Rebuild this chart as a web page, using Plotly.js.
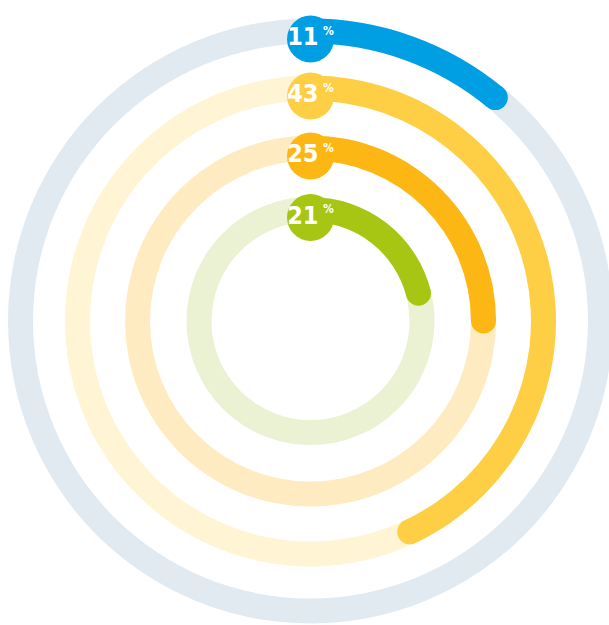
<!DOCTYPE html>
<html>
<head>
<meta charset="utf-8">
<script src="https://cdn.plot.ly/plotly-3.0.1.min.js"></script>
<style>
  html, body { margin: 0; padding: 0; overflow: hidden; background: #ffffff; width: 609px; height: 625px; }
  #chart { position: absolute; left: 0; top: 0; width: 621px; height: 642px; }
</style>
</head>
<body>
<div id="chart"></div>
<script>
// Data
const labels = ["11", "43", "25", "21"];
const values = [11, 43, 25, 21];           // percent
const arcColors = ["#009FE3", "#FECF45", "#FDB714", "#A6C613"];
const trackColors = ["#E1EAF0", "#FFF4D3", "#FFEBC1", "#EBF1D3"];

// Layout constants (pixel units on the radial axis)
const innerRadii = [277.5, 220.5, 160.5, 99];
const thickness = 25;
const badgeInset = 8;
const R = 310.5;

const traces = [];
values.forEach((v, i) => {
  const mid = innerRadii[i] + thickness / 2;
  traces.push({
    type: "barpolar",
    r: [thickness], base: [innerRadii[i]], theta: [180], width: [360],
    marker: { color: trackColors[i], line: { width: 0 } },
    hoverinfo: "skip", showlegend: false
  });
  const deg = v * 3.6;
  traces.push({
    type: "barpolar",
    r: [thickness], base: [innerRadii[i]], theta: [deg / 2], width: [deg],
    marker: { color: arcColors[i], line: { width: 0 } },
    hoverinfo: "skip", showlegend: false
  });
  traces.push({
    type: "scatterpolar", mode: "markers",
    r: [mid], theta: [deg],
    marker: { size: thickness, color: arcColors[i], line: { width: 0 } },
    hoverinfo: "skip", showlegend: false, cliponaxis: false
  });
  traces.push({
    type: "scatterpolar", mode: "markers+text",
    r: [mid - badgeInset], theta: [0],
    marker: { size: 47, color: arcColors[i], line: { width: 0 } },
    text: [labels[i] + "\u2009<sup><span style='font-size:12px'>%</span></sup>"],
    textposition: "middle center",
    textfont: { family: "'DejaVu Sans Condensed', 'DejaVu Sans', sans-serif", stretch: "condensed", size: 25, color: "#ffffff", weight: "bold" },
    hoverinfo: "skip", showlegend: false, cliponaxis: false
  });
});

const layout = {
  width: 621, height: 642,
  margin: { l: 0, r: 0, t: 0, b: 0, pad: 0 },
  paper_bgcolor: "#ffffff",
  showlegend: false,
  hovermode: false,
  polar: {
    domain: { x: [0, 1], y: [0, 1] },
    bgcolor: "rgba(0,0,0,0)",
    radialaxis: { visible: false, range: [0, R], showgrid: false, showline: false, showticklabels: false },
    angularaxis: { visible: false, rotation: 90, direction: "clockwise", showgrid: false, showline: false, showticklabels: false, ticks: "" }
  }
};

Plotly.newPlot("chart", traces, layout, { staticPlot: true, displayModeBar: false });
</script>
</body>
</html>
